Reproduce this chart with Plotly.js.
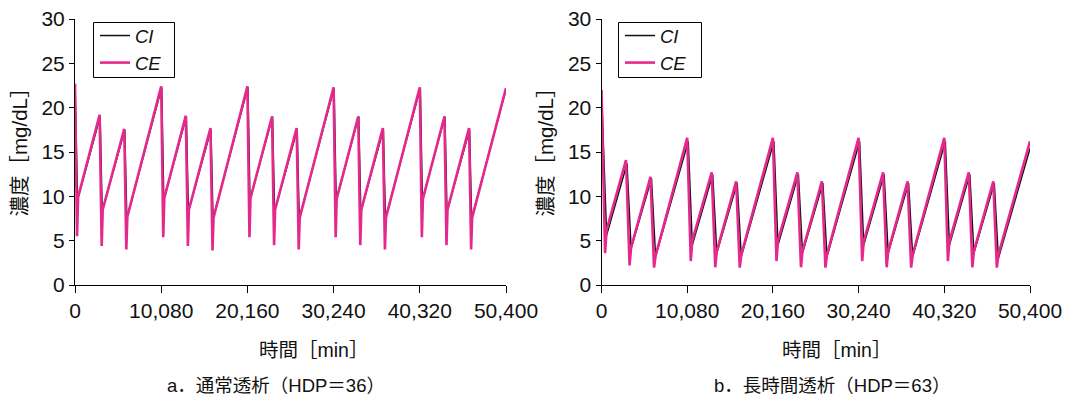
<!DOCTYPE html>
<html>
<head>
<meta charset="utf-8">
<script src="https://cdn.plot.ly/plotly-3.0.1.min.js"></script>
<style>html,body{margin:0;padding:0;background:#fff;}#chart{width:1069px;height:400px;}</style>
</head>
<body>
<div id="chart"></div>
<script>
// ---- Data ----
// Panel a: 通常透析 (HDP=36), 4 h sessions
const timeA_CI = [0, 300, 2940, 3180, 5820, 6060, 10140, 10380, 13020, 13260, 15900, 16140, 20220, 20460, 23100, 23340, 25980, 26220, 30300, 30540, 33180, 33420, 36060, 36300, 40380, 40620, 43260, 43500, 46140, 46380, 50400];
const concA_CI = [22.7, 9.6, 19.0, 8.3, 17.5, 7.5, 22.3, 9.6, 19.0, 8.3, 17.5, 7.5, 22.3, 9.6, 19.0, 8.3, 17.5, 7.5, 22.2, 9.6, 19.0, 8.3, 17.5, 7.5, 22.2, 9.6, 19.0, 8.3, 17.5, 7.5, 22.1];
const timeA_CE = [0, 240, 360, 2880, 3120, 3240, 5760, 6000, 6120, 10080, 10320, 10440, 12960, 13200, 13320, 15840, 16080, 16200, 20160, 20400, 20520, 23040, 23280, 23400, 25920, 26160, 26280, 30240, 30480, 30600, 33120, 33360, 33480, 36000, 36240, 36360, 40320, 40560, 40680, 43200, 43440, 43560, 46080, 46320, 46440, 50400];
const concA_CE = [22.7, 5.5, 9.9, 19.2, 4.4, 8.5, 17.6, 4.0, 7.7, 22.4, 5.4, 9.8, 19.1, 4.4, 8.5, 17.7, 3.9, 7.6, 22.4, 5.4, 9.8, 19.0, 4.5, 8.5, 17.7, 4.0, 7.6, 22.3, 5.4, 9.7, 19.0, 4.5, 8.5, 17.7, 4.0, 7.6, 22.3, 5.4, 9.7, 19.0, 4.5, 8.5, 17.7, 4.0, 7.6, 22.2];

// Panel b: 長時間透析 (HDP=63), 7 h sessions
const timeB_CI = [0, 600, 3000, 3480, 5880, 6360, 10200, 10680, 13080, 13560, 15960, 16440, 20280, 20760, 23160, 23640, 26040, 26520, 30360, 30840, 33240, 33720, 36120, 36600, 40440, 40920, 43320, 43800, 46200, 46680, 50400];
const concB_CI = [22.0, 5.6, 13.7, 4.1, 12.0, 3.2, 16.2, 4.5, 12.5, 3.6, 11.5, 3.2, 16.2, 4.5, 12.5, 3.6, 11.5, 3.2, 16.2, 4.5, 12.5, 3.6, 11.5, 3.2, 16.2, 4.5, 12.5, 3.6, 11.5, 3.0, 15.4];
const timeB_CE = [0, 420, 600, 2880, 3300, 3480, 5760, 6180, 6360, 10080, 10500, 10680, 12960, 13380, 13560, 15840, 16260, 16440, 20160, 20580, 20760, 23040, 23460, 23640, 25920, 26340, 26520, 30240, 30660, 30840, 33120, 33540, 33720, 36000, 36420, 36600, 40320, 40740, 40920, 43200, 43620, 43800, 46080, 46500, 46680, 50400];
const concB_CE = [22.0, 3.6, 6.2, 14.1, 2.2, 4.2, 12.2, 1.95, 3.3, 16.6, 2.7, 5.0, 12.7, 2.0, 3.8, 11.7, 1.95, 3.4, 16.6, 2.7, 5.0, 12.7, 2.0, 3.8, 11.7, 1.95, 3.4, 16.6, 2.7, 4.9, 12.7, 2.0, 3.8, 11.7, 1.95, 3.4, 16.6, 2.7, 4.9, 12.7, 2.0, 3.8, 11.7, 1.95, 3.4, 16.2];

const seriesNames = ['<i>CI</i>', '<i>CE</i>'];
const xTickVals = [0, 10080, 20160, 30240, 40320, 50400];
const xTickText = ['0', '10,080', '20,160', '30,240', '40,320', '50,400'];
const yTickVals = [0, 5, 10, 15, 20, 25, 30];
const yTitle = '濃度［mg/dL］';
const xTitle = '時間［min］';
const panelTitles = ['a．通常透析（HDP＝36）', 'b．長時間透析（HDP＝63）'];

// ---- Styling ----
const W = 1069, H = 400;
const FONT = 'Liberation Sans, Arial, Noto Sans CJK JP, sans-serif';
const BLACK = '#111111';
const PINK = '#E5288C';
const px = v => v / W;
const py = v => 1 - v / H;

const traces = [
  {x: timeA_CI, y: concA_CI, name: seriesNames[0], mode: 'lines', line: {color: BLACK, width: 1.5}, xaxis: 'x', yaxis: 'y', legend: 'legend'},
  {x: timeA_CE, y: concA_CE, name: seriesNames[1], mode: 'lines', line: {color: PINK, width: 2.6}, xaxis: 'x', yaxis: 'y', legend: 'legend'},
  {x: timeB_CI, y: concB_CI, name: seriesNames[0], mode: 'lines', line: {color: BLACK, width: 1.5}, xaxis: 'x2', yaxis: 'y2', legend: 'legend2'},
  {x: timeB_CE, y: concB_CE, name: seriesNames[1], mode: 'lines', line: {color: PINK, width: 2.6}, xaxis: 'x2', yaxis: 'y2', legend: 'legend2'}
];

function xAxis(domain, anchor) {
  return {
    domain: domain, anchor: anchor, range: [0, 50400],
    tickmode: 'array', tickvals: xTickVals, ticktext: xTickText,
    ticks: 'outside', ticklen: 7, tickwidth: 1, tickcolor: '#000',
    showline: true, linecolor: '#000', linewidth: 1,
    showgrid: false, zeroline: false,
    tickfont: {family: FONT, size: 21, color: '#111'}
  };
}
function yAxis(domain, anchor) {
  return {
    domain: domain, anchor: anchor, range: [0, 30],
    tickmode: 'array', tickvals: yTickVals,
    ticks: 'outside', ticklen: 5, tickwidth: 1, tickcolor: '#000',
    showline: true, linecolor: '#000', linewidth: 1,
    showgrid: false, zeroline: false,
    tickfont: {family: FONT, size: 21, color: '#111'}
  };
}
const yDom = [py(285), py(19)];
const legendBase = {
  xanchor: 'left', yanchor: 'top', bgcolor: 'rgba(0,0,0,0)', borderwidth: 0,
  font: {family: FONT, size: 18.5, color: '#111'}, traceorder: 'normal'
};

function ann(text, x, y, angle, size) {
  return {text: text, x: px(x), y: py(y), xref: 'paper', yref: 'paper', showarrow: false,
    xanchor: 'center', yanchor: 'middle', textangle: angle || 0,
    font: {family: FONT, size: size || 20, color: '#111'}};
}
function legendFrame(x0, x1, y0, y1) {
  return {type: 'rect', xref: 'paper', yref: 'paper', x0: px(x0), x1: px(x1), y0: py(y0), y1: py(y1),
    line: {color: '#000', width: 1}, fillcolor: '#fff', layer: 'above'};
}

const layout = {
  width: W, height: H,
  margin: {l: 0, r: 0, t: 0, b: 0},
  paper_bgcolor: '#fff', plot_bgcolor: '#fff',
  showlegend: true,
  xaxis: xAxis([px(75), px(506)], 'y'),
  yaxis: yAxis(yDom, 'x'),
  xaxis2: xAxis([px(601.5), px(1030)], 'y2'),
  yaxis2: yAxis(yDom, 'x2'),
  legend: Object.assign({}, legendBase, {x: px(95), y: py(17)}),
  legend2: Object.assign({}, legendBase, {x: px(620), y: py(17)}),
  shapes: [legendFrame(93.5, 174.5, 22.5, 77.5), legendFrame(618.5, 701.5, 22.5, 77.5)],
  annotations: [
    ann(yTitle, 19.5, 147, -90, 20.5),
    ann(yTitle, 545.5, 147, -90, 20.5),
    ann(xTitle, 313, 350, 0, 19.5),
    ann(xTitle, 836, 350, 0, 19.5),
    ann(panelTitles[0], 276, 385, 0, 18.5),
    ann(panelTitles[1], 832, 385, 0, 18.5)
  ]
};

Plotly.newPlot('chart', traces, layout, {staticPlot: true, displayModeBar: false});
</script>
</body>
</html>
